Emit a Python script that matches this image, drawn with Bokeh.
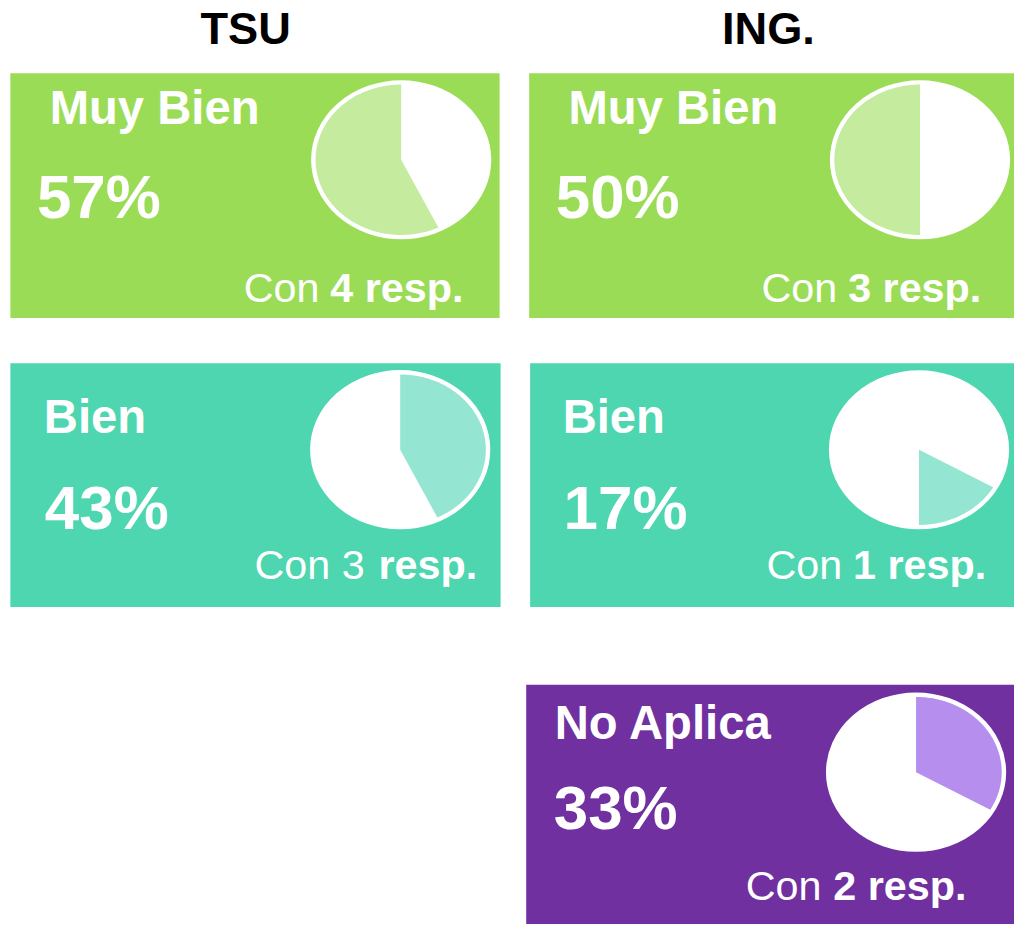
import numpy as np
from bokeh.plotting import figure
from bokeh.models import Range1d
from bokeh.core.properties import value
from bokeh.embed import file_html
from bokeh.resources import INLINE

# ---------------- data ----------------
groups = ["TSU", "ING."]
tsu_categories = ["Bien", "Muy Bien"]
tsu_counts = [3, 4]
ing_categories = ["No Aplica", "Bien", "Muy Bien"]
ing_counts = [2, 1, 3]

data = {"TSU": (tsu_categories, tsu_counts), "ING.": (ing_categories, ing_counts)}

# panel colour (dark, light slice) per category
cat_colors = {
    "Muy Bien": ("#9BDC57", "#C4EB9E"),
    "Bien": ("#4DD6B0", "#94E6D2"),
    "No Aplica": ("#7030A0", "#B58EEE"),
}

# ---------------- layout (pixels of the reference picture) ----------------
title_pos = {"TSU": (249, 46), "ING.": (780, 46)}
panels = [
    dict(g="TSU", cat="Muy Bien", l=10, r=507, t=74, b=323, cx=407, cy=162,
         lx=50, ly=127, px=37, py=223, c1=247, c2=335, cby=308, count_bold=True),
    dict(g="ING.", cat="Muy Bien", l=537, r=1030, t=74, b=323, cx=934, cy=162,
         lx=577, ly=127, px=564, py=223, c1=773, c2=861, cby=308, count_bold=True),
    dict(g="TSU", cat="Bien", l=10, r=508, t=369, b=617, cx=406, cy=457,
         lx=44, ly=441, px=45, py=540, c1=258, c2=384, cby=590, count_bold=False),
    dict(g="ING.", cat="Bien", l=538, r=1030, t=369, b=617, cx=933, cy=457,
         lx=571, ly=441, px=572, py=540, c1=778, c2=866, cby=590, count_bold=True),
    dict(g="ING.", cat="No Aplica", l=534, r=1030, t=696, b=940, cx=930, cy=785,
         lx=563, ly=753, px=562, py=845, c1=757, c2=846, cby=917, count_bold=True),
]
RX, RY = 90, 79.5
FONT = value("Liberation Sans")
W, H = 1014, 924
SX = W / 1030.0
SY = H / 940.0
K = 0.38  # baseline correction (fraction of font size)

p = figure(width=W, height=H, output_backend="svg", toolbar_location=None,
           x_range=Range1d(0, 1030), y_range=Range1d(940, 0),
           x_axis_type=None, y_axis_type=None, min_border=0)
p.outline_line_color = None
p.grid.visible = False
p.background_fill_color = "white"


def txt(x, y, s, size, style, color="white", align="left"):
    fs = size * SY
    p.text(x=[x], y=[y - K * size], text=[s], text_font=FONT,
           text_font_style=style, text_font_size=f"{fs:.1f}px",
           text_color=color, text_align=align, text_baseline="alphabetic")


# titles
for g in groups:
    x, y = title_pos[g]
    txt(x, y, g, 46, "bold", color="black", align="center")

for pn in panels:
    cats, counts = data[pn["g"]]
    total = sum(counts)
    k = cats.index(pn["cat"])
    cnt = counts[k]
    pct = round(100 * cnt / total)
    f0 = sum(counts[:k]) / total
    f1 = sum(counts[:k + 1]) / total
    dark, light = cat_colors[pn["cat"]]

    # panel background
    p.quad(left=[pn["l"]], right=[pn["r"]], top=[pn["t"]], bottom=[pn["b"]],
           fill_color=dark, line_color=None)

    # pie (ellipse) with highlighted slice, clockwise from top
    p.ellipse(x=[pn["cx"]], y=[pn["cy"]], width=[2 * RX], height=[2 * RY],
              fill_color="white", line_color="white", line_width=3)
    fr = np.linspace(f0, f1, 120)
    th = np.pi / 2 - 2 * np.pi * fr
    xs = list(pn["cx"] + (RX - 3) * np.cos(th)) + [pn["cx"]]
    ys = list(pn["cy"] - (RY - 3) * np.sin(th)) + [pn["cy"]]
    p.patches(xs=[xs], ys=[ys], fill_color=light, line_color=None)

    # texts
    txt(pn["lx"], pn["ly"], pn["cat"], 48, "bold")
    txt(pn["px"], pn["py"], f"{pct}%", 63, "bold")
    if pn["count_bold"]:
        reg, bld = "Con", f"{cnt} resp."
    else:
        reg, bld = f"Con {cnt}", "resp."
    txt(pn["c1"], pn["cby"], reg, 42, "normal")
    txt(pn["c2"], pn["cby"], bld, 42, "bold")

open("out.html", "w").write(file_html(p, INLINE))
